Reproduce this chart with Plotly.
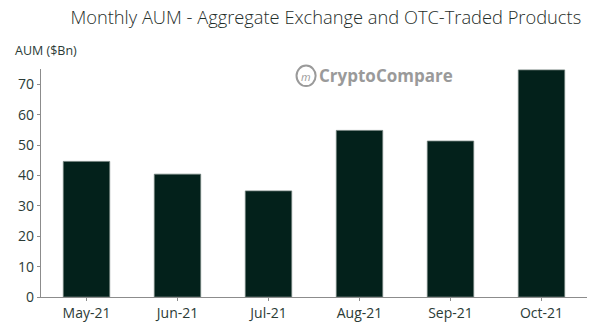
import plotly.graph_objects as go

months = ["May-21", "Jun-21", "Jul-21", "Aug-21", "Sep-21", "Oct-21"]
aum_bn = [44.6, 40.4, 34.9, 54.8, 51.3, 74.7]

title_text = "Monthly AUM - Aggregate Exchange and OTC-Traded Products"
y_title = "AUM ($Bn)"
y_ticks = [0, 10, 20, 30, 40, 50, 60, 70]

bar_color = "#03211b"
text_color = "#2b3b36"
axis_color = "#8c8c8c"

fig = go.Figure()
fig.add_trace(go.Bar(
    x=months, y=aum_bn,
    marker=dict(color=bar_color, line=dict(color="#6f7f7a", width=0.8)),
    hoverinfo="x+y",
))

fig.update_layout(
    width=600, height=325,
    margin=dict(l=41, r=13, t=69, b=28, autoexpand=False),
    paper_bgcolor="white", plot_bgcolor="white",
    bargap=0.49,
    showlegend=False,
    font=dict(family="Open Sans, Lato, sans-serif", color=text_color, size=14),
    title=dict(text=title_text, x=0.543, xanchor="center", y=0.945, yanchor="middle",
               font=dict(size=18.3, color="#1f2e2a", weight=300,
                         family="Open Sans, Lato, sans-serif")),
    xaxis=dict(showline=True, linecolor=axis_color, linewidth=1.2, automargin=False,
               ticks="outside", ticklen=3, tickcolor=axis_color,
               tickfont=dict(size=14, color=text_color), showgrid=False),
    yaxis=dict(range=[0, 75], tickvals=y_ticks, showline=True, linecolor=axis_color,
               linewidth=1.2, ticks="outside", ticklen=3, tickcolor=axis_color, automargin=False,
               tickfont=dict(size=14, color=text_color), showgrid=False, zeroline=False),
)

fig.add_annotation(text=y_title, xref="paper", yref="paper", x=-0.052, y=1.035,
                   xanchor="left", yanchor="bottom", showarrow=False,
                   font=dict(size=12.5, color=text_color))

# CryptoCompare watermark
fig.add_annotation(text="<b>CryptoCompare</b>", xref="paper", yref="paper",
                   x=0.505, y=0.97, xanchor="left", yanchor="middle", showarrow=False,
                   font=dict(size=17, color="#9a9a9a", family="Open Sans, sans-serif"))
fig.add_shape(type="circle", xref="paper", yref="paper",
              x0=0.468, x1=0.503, y0=0.925, y1=1.015,
              line=dict(color="#9a9a9a", width=2))
fig.add_annotation(text="<i>m</i>", xref="paper", yref="paper", x=0.4855, y=0.968,
                   xanchor="center", yanchor="middle", showarrow=False,
                   font=dict(size=11, color="#9a9a9a"))

fig.write_html("out.html")
